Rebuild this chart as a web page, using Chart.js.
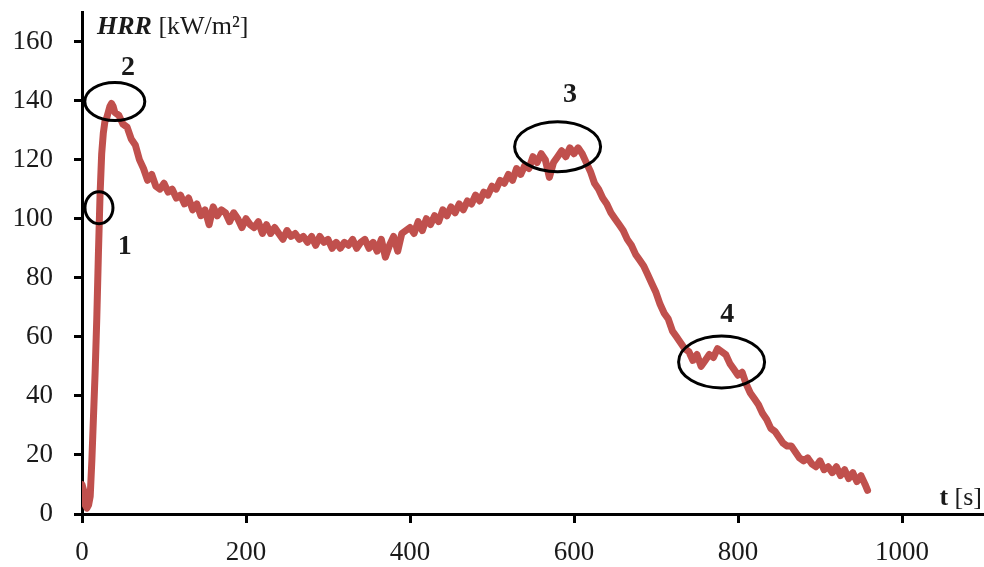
<!DOCTYPE html>
<html>
<head>
<meta charset="utf-8">
<script src="https://cdn.jsdelivr.net/npm/chart.js@4.4.1/dist/chart.umd.min.js"></script>
<style>
  html, body { margin: 0; padding: 0; background: #fff; }
  canvas { display: block; }
</style>
</head>
<body>
<canvas id="hrrChart" width="984" height="567"></canvas>
<script>
// time [s]
var times = [0, 2, 4, 6, 8, 10, 12, 14, 16, 18, 20, 22, 24, 26, 28, 30, 32, 34, 36, 38, 40,
  45, 50, 55, 60, 65, 70, 75, 80, 85, 90, 95, 100, 105, 110, 115, 120, 125, 130, 135, 140,
  145, 150, 155, 160, 165, 170, 175, 180, 185, 190, 195, 200, 205, 210, 215, 220, 225, 230,
  235, 240, 245, 250, 255, 260, 265, 270, 275, 280, 285, 290, 295, 300, 305, 310, 315, 320,
  325, 330, 335, 340, 345, 350, 355, 360, 365, 370, 375, 380, 385, 390, 395, 400, 405, 410,
  415, 420, 425, 430, 435, 440, 445, 450, 455, 460, 465, 470, 475, 480, 485, 490, 495, 500,
  505, 510, 515, 520, 525, 530, 535, 540, 545, 550, 555, 560, 565, 570, 575, 580, 585, 590,
  595, 600, 605, 610, 615, 620, 625, 630, 635, 640, 645, 650, 655, 660, 665, 670, 675, 680,
  685, 690, 695, 700, 705, 710, 715, 720, 725, 730, 735, 740, 745, 750, 755, 760, 765, 770,
  775, 780, 785, 790, 795, 800, 805, 810, 815, 820, 825, 830, 835, 840, 845, 850, 855, 860,
  865, 870, 875, 880, 885, 890, 895, 900, 905, 910, 915, 920, 925, 930, 935, 940, 945, 950,
  955, 958];

// heat release rate [kW/m2]
var hrr = [10, 8, 3, 2, 3, 6, 18, 33, 48, 66, 88, 108, 122, 129, 133, 134, 136, 138, 139, 138, 136,
  135, 132, 131, 127, 125, 120, 117, 113, 115, 111, 110, 112, 109, 110, 107, 108, 105, 107, 103, 105,
  101, 103, 98, 104, 101, 103, 102, 99, 102, 100, 97, 100, 98, 97, 99, 95, 98, 95,
  97, 95, 93, 96, 94, 95, 93, 94, 92, 94, 91, 94, 92, 93, 90, 92, 90, 92,
  91, 93, 90, 92, 93, 90, 92, 89, 93, 87, 91, 94, 89, 95, 96, 97, 95, 99,
  96, 100, 98, 101, 99, 103, 101, 104, 102, 105, 103, 106, 105, 108, 106, 109, 108, 111,
  110, 113, 112, 115, 113, 117, 115, 118, 117, 121, 119, 122, 120, 114, 119, 121, 123, 121,
  124, 122, 124, 122, 119, 116, 112, 110, 107, 105, 102, 100, 98, 96, 93, 91, 88, 86,
  84, 81, 78, 75, 71, 68, 66, 62, 60, 58, 56, 55, 52, 54, 50, 52, 54, 53,
  56, 55, 54, 51, 49, 47, 48, 44, 41, 39, 37, 34, 32, 29, 28, 26, 24, 23,
  23, 21, 19, 18, 19, 17, 16, 18, 15, 16, 14, 16, 13, 15, 12, 14, 11, 13,
  10, 8];

var xTicks = [0, 200, 400, 600, 800, 1000];
var yTicks = [0, 20, 40, 60, 80, 100, 120, 140, 160];

// marked zones: label, centre (t, HRR), label position (t, HRR)
var zoneLabels = ['1', '2', '3', '4'];
var zoneCentres = [[20.7, 103.7], [40, 139.7], [580, 124.4], [780, 51.5]];
var zoneRadii = [[14, 16], [30, 19], [43, 25], [43, 26]];
var zoneTextPos = [[52, 90.5], [56, 151.2], [595, 142], [787, 67.4]];

var textColor = '#1a1a1a';
var lineColor = '#c0504d';

var points = times.map(function (t, i) { return { x: t, y: hrr[i] }; });

var annotations = {
  id: 'annotations',
  afterDatasetsDraw: function (chart) {
    var ctx = chart.ctx;
    var xs = chart.scales.x, ys = chart.scales.y;
    ctx.save();
    // ellipses around zones
    ctx.strokeStyle = '#000';
    ctx.lineWidth = 3;
    zoneCentres.forEach(function (c, i) {
      ctx.beginPath();
      ctx.ellipse(xs.getPixelForValue(c[0]), ys.getPixelForValue(c[1]),
        zoneRadii[i][0], zoneRadii[i][1], 0, 0, Math.PI * 2);
      ctx.stroke();
    });
    // zone numbers
    ctx.fillStyle = textColor;
    ctx.font = 'bold 28px "Liberation Serif", serif';
    ctx.textAlign = 'center';
    ctx.textBaseline = 'middle';
    zoneTextPos.forEach(function (p, i) {
      ctx.fillText(zoneLabels[i], xs.getPixelForValue(p[0]), ys.getPixelForValue(p[1]));
    });
    // axis titles
    var area = chart.chartArea;
    ctx.textAlign = 'left';
    ctx.textBaseline = 'alphabetic';
    ctx.font = 'italic bold 26px "Liberation Serif", serif';
    ctx.fillText('HRR', area.left + 15, 34);
    var w = ctx.measureText('HRR ').width;
    ctx.font = '26px "Liberation Serif", serif';
    ctx.fillText('[kW/m²]', area.left + 15 + w, 34);

    ctx.textAlign = 'right';
    ctx.font = '26px "Liberation Serif", serif';
    ctx.fillText('[s]', area.right - 2, area.bottom - 9);
    var ws = ctx.measureText(' [s]').width;
    ctx.font = 'bold 26px "Liberation Serif", serif';
    ctx.fillText('t', area.right - 2 - ws, area.bottom - 9);
    ctx.restore();
  }
};

new Chart(document.getElementById('hrrChart').getContext('2d'), {
  type: 'line',
  data: {
    datasets: [{
      label: 'HRR',
      data: points,
      borderColor: lineColor,
      borderWidth: 7,
      borderJoinStyle: 'round',
      borderCapStyle: 'round',
      pointRadius: 0,
      tension: 0,
      fill: false
    }]
  },
  options: {
    responsive: false,
    animation: false,
    layout: { padding: { top: 12, right: 0, left: 0, bottom: 0 } },
    plugins: { legend: { display: false }, tooltip: { enabled: false } },
    scales: {
      x: {
        type: 'linear',
        min: 0,
        max: 1100,
        afterBuildTicks: function (s) { s.ticks = xTicks.map(function (v) { return { value: v }; }); },
        afterFit: function (s) { s.height = 53; s.paddingLeft = 0; s.paddingRight = 0; },
        border: { display: true, color: '#000', width: 3 },
        grid: { drawOnChartArea: false, drawTicks: true, tickLength: 9, tickWidth: 3, tickColor: '#000' },
        ticks: {
          color: textColor,
          padding: 14,
          maxRotation: 0,
          callback: function (v) { return String(v); },
          font: { family: '"Liberation Serif", serif', size: 27 }
        }
      },
      y: {
        min: 0,
        max: 170,
        afterBuildTicks: function (s) { s.ticks = yTicks.map(function (v) { return { value: v }; }); },
        afterFit: function (s) { s.width = 82; s.paddingTop = 0; s.paddingBottom = 0; },
        border: { display: true, color: '#000', width: 3 },
        grid: { drawOnChartArea: false, drawTicks: true, tickLength: 8, tickWidth: 3, tickColor: '#000' },
        ticks: {
          color: textColor,
          padding: 21,
          callback: function (v) { return String(v); },
          font: { family: '"Liberation Serif", serif', size: 27 }
        }
      }
    }
  },
  plugins: [annotations]
});
</script>
</body>
</html>
